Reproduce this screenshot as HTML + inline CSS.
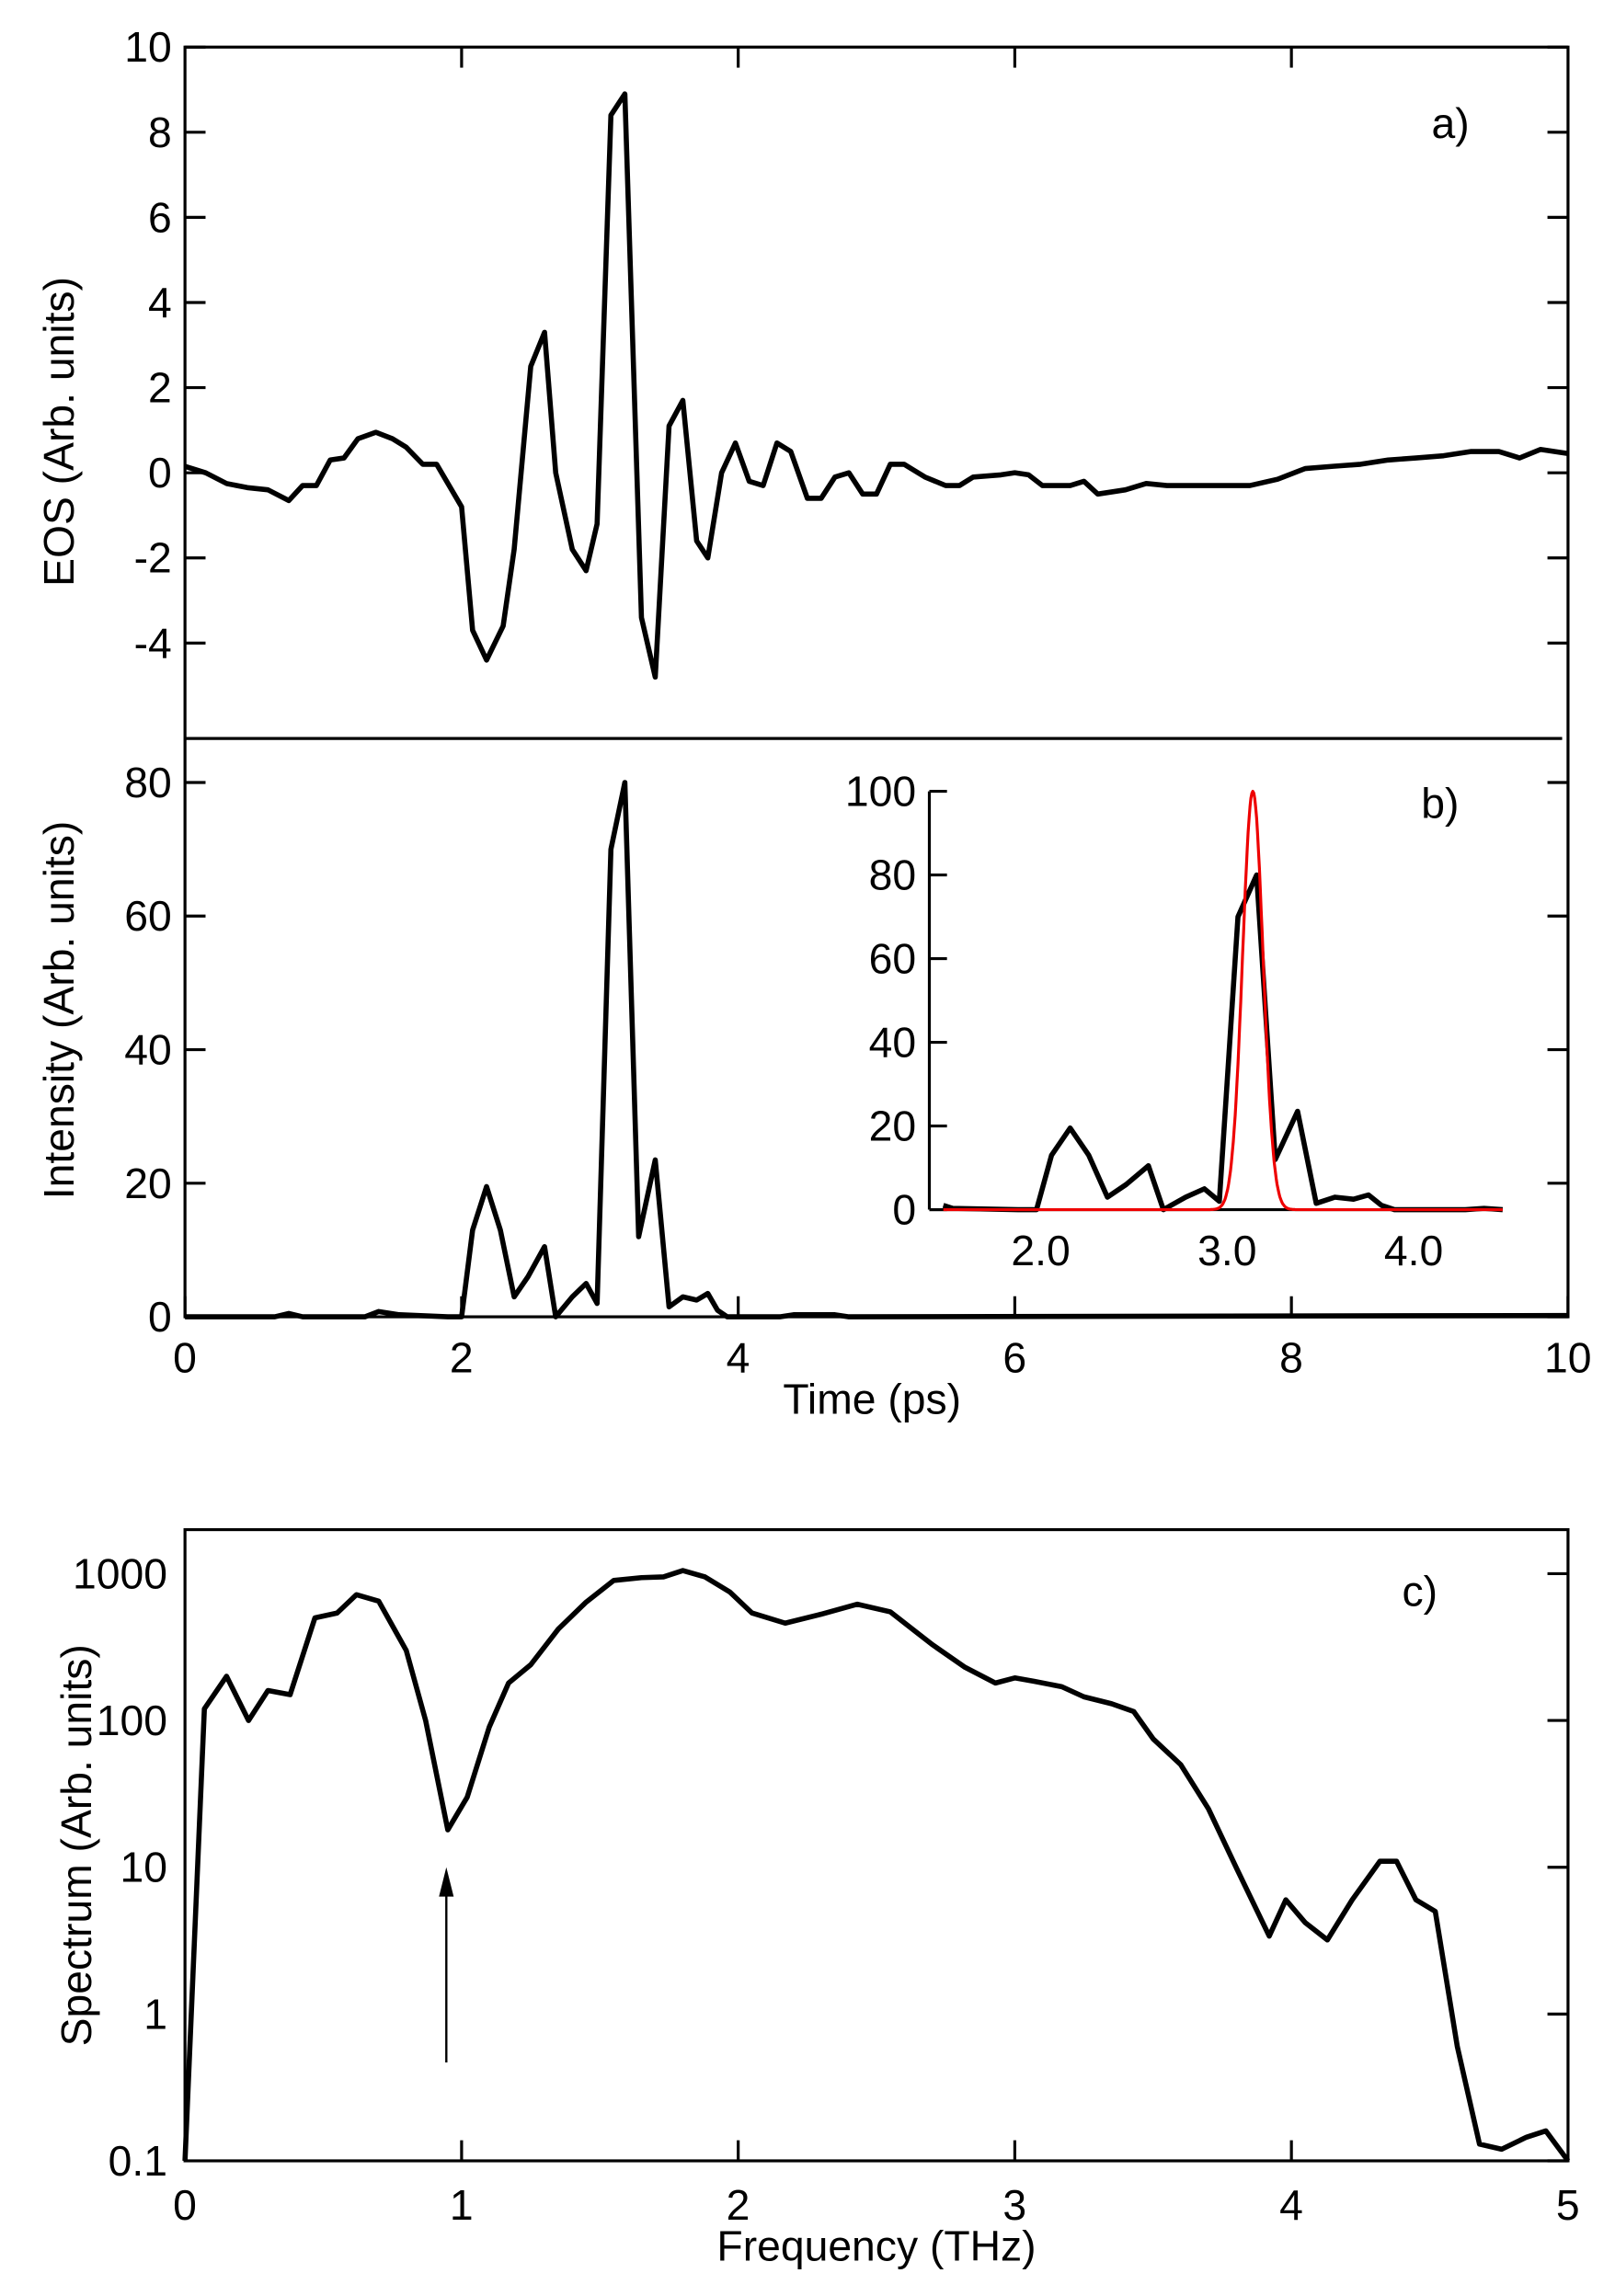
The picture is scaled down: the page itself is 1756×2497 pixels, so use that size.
<!DOCTYPE html>
<html><head><meta charset="utf-8"><style>
html,body{margin:0;padding:0;background:#fff}
svg{display:block}
text{font-family:"Liberation Sans","DejaVu Sans",sans-serif;fill:#000}
</style></head><body>
<svg id="s" width="1756" height="2497" viewBox="0 0 1100 1564" xmlns="http://www.w3.org/2000/svg">
<g fill="none" stroke="#000" stroke-width="2">
<rect x="126" y="32" width="942" height="865"/>
<line x1="126" y1="503" x2="1064" y2="503"/>
<rect x="126" y="1042" width="942" height="430"/>
<line x1="633" y1="539" x2="633" y2="824"/>
<line x1="633" y1="824" x2="1022" y2="824"/>
<line x1="304" y1="1405" x2="304" y2="1285" stroke-width="1.5"/>
</g>
<polygon points="304,1272 299,1292 309,1292" fill="#000"/>
<g id="ticks" stroke="#000" stroke-width="2"></g>
<g id="lines" fill="none" stroke-linejoin="round"></g>
<g font-size="29" text-anchor="end" id="lbl"></g>
<text x="975" y="94" font-size="29">a)</text>
<text x="968" y="557" font-size="29">b)</text>
<text x="955" y="1094" font-size="29">c)</text>
<text x="594" y="963" font-size="29" text-anchor="middle">Time (ps)</text>
<text x="597" y="1540" font-size="29" text-anchor="middle">Frequency (THz)</text>
<text transform="translate(50,294) rotate(-90)" font-size="29" text-anchor="middle">EOS (Arb. units)</text>
<text transform="translate(50,688) rotate(-90)" font-size="29" text-anchor="middle">Intensity (Arb. units)</text>
<text transform="translate(62,1257) rotate(-90)" font-size="29" text-anchor="middle">Spectrum (Arb. units)</text>
</svg>
<script>
var NS="http://www.w3.org/2000/svg";
function el(p,t,a,txt){var e=document.createElementNS(NS,t);for(var k in a)e.setAttribute(k,a[k]);if(txt!==undefined)e.textContent=txt;document.getElementById(p).appendChild(e);return e;}
var tx=function(t){return 126+t*94.2};
var ya=function(v){return 322-v*29};
var yb=function(v){return 897-v*4.55};
var ix=function(t){return 833+(t-3)*127};
var iy=function(v){return 824-v*2.85};
var fx=function(f){return 126+f*188.4};
var fy=function(v){return 1372-100*Math.log10(v)};
[10,8,6,4,2,0,-2,-4].forEach(function(v){var y=ya(v);el("ticks","line",{x1:126,y1:y,x2:140,y2:y});el("ticks","line",{x1:1054,y1:y,x2:1068,y2:y});el("lbl","text",{x:117,y:y+10},String(v));});
[2,4,6,8].forEach(function(t){el("ticks","line",{x1:tx(t),y1:32,x2:tx(t),y2:46});});
[0,20,40,60,80].forEach(function(v){var y=yb(v);el("ticks","line",{x1:126,y1:y,x2:140,y2:y});el("ticks","line",{x1:1054,y1:y,x2:1068,y2:y});el("lbl","text",{x:117,y:y+10},String(v));});
[0,2,4,6,8,10].forEach(function(t){var x=tx(t);el("ticks","line",{x1:x,y1:883,x2:x,y2:897});el("lbl","text",{x:x+8*String(t).length,y:935},String(t));});
[0,20,40,60,80,100].forEach(function(v){var y=iy(v);el("ticks","line",{x1:633,y1:y,x2:645,y2:y});el("lbl","text",{x:624,y:y+10},String(v));});
["2.0","3.0","4.0"].forEach(function(s){el("lbl","text",{x:ix(+s)+23,y:862},s);});
[[1000,"1000"],[100,"100"],[10,"10"],[1,"1"],[0.1,"0.1"]].forEach(function(a){var y=fy(a[0]);el("ticks","line",{x1:1054,y1:y,x2:1068,y2:y});el("lbl","text",{x:114,y:y+10},a[1]);});
[1,2,3,4].forEach(function(f){el("ticks","line",{x1:fx(f),y1:1458,x2:fx(f),y2:1472});});
[0,1,2,3,4,5].forEach(function(f){el("lbl","text",{x:fx(f)+8,y:1512},String(f));});
function pl(d,X,Y,c,w){el("lines","polyline",{points:d.map(function(p){return X(p[0]).toFixed(1)+","+Y(p[1]).toFixed(1)}).join(" "),stroke:c,"stroke-width":w});}
var A=[[0,0.15],[0.15,0],[0.3,-0.25],[0.45,-0.35],[0.6,-0.4],[0.75,-0.65],[0.85,-0.3],[0.95,-0.3],[1.05,0.3],[1.15,0.35],[1.25,0.8],[1.38,0.95],[1.5,0.8],[1.6,0.6],[1.72,0.2],[1.82,0.2],[2.0,-0.8],[2.08,-3.7],[2.18,-4.4],[2.3,-3.6],[2.38,-1.8],[2.5,2.5],[2.6,3.3],[2.68,0],[2.8,-1.8],[2.9,-2.3],[2.98,-1.2],[3.08,8.4],[3.18,8.9],[3.3,-3.4],[3.4,-4.8],[3.5,1.1],[3.6,1.7],[3.7,-1.6],[3.78,-2.0],[3.88,0],[3.98,0.7],[4.08,-0.2],[4.18,-0.3],[4.28,0.7],[4.38,0.5],[4.5,-0.6],[4.6,-0.6],[4.7,-0.1],[4.8,0],[4.9,-0.5],[5.0,-0.5],[5.1,0.2],[5.2,0.2],[5.35,-0.1],[5.5,-0.3],[5.6,-0.3],[5.7,-0.1],[5.9,-0.05],[6.0,0],[6.1,-0.05],[6.2,-0.3],[6.4,-0.3],[6.5,-0.2],[6.6,-0.5],[6.8,-0.4],[6.95,-0.25],[7.1,-0.3],[7.3,-0.3],[7.5,-0.3],[7.7,-0.3],[7.9,-0.15],[8.1,0.1],[8.3,0.15],[8.5,0.2],[8.7,0.3],[8.9,0.35],[9.1,0.4],[9.3,0.5],[9.5,0.5],[9.65,0.35],[9.8,0.55],[9.9,0.5],[10,0.45]];
pl(A,tx,ya,"#000",3.5);
var B=[[0,0],[0.65,0],[0.75,0.5],[0.85,0],[1.3,0],[1.4,0.8],[1.55,0.3],[1.9,0],[2.0,0],[2.08,13],[2.18,19.5],[2.28,13],[2.38,3],[2.48,6],[2.6,10.5],[2.68,0],[2.8,3],[2.9,5],[2.98,2],[3.08,70],[3.18,80],[3.28,12],[3.4,23.5],[3.5,1.5],[3.6,3],[3.7,2.5],[3.78,3.5],[3.85,1],[3.92,0],[4.3,0],[4.4,0.3],[4.7,0.3],[4.8,0],[10,0.2]];
pl(B,tx,yb,"#000",3.5);
var BI=B.filter(function(p){return p[0]>=1.5&&p[0]<=4.5;});BI.unshift([1.5,1]);BI.push([4.5,0]);
pl(BI,ix,iy,"#000",3.5);
var G=[];for(var t=1.5;t<=4.5;t+=0.005)G.push([t,100*Math.exp(-Math.pow(t-3.16,2)/(2*0.055*0.055))]);
pl(G,ix,iy,"#e00",2);
var C=[[0,0.1],[0.07,120],[0.15,200],[0.23,100],[0.3,160],[0.38,150],[0.47,500],[0.55,540],[0.62,720],[0.7,650],[0.8,300],[0.87,100],[0.95,18],[1.02,30],[1.1,90],[1.17,180],[1.25,240],[1.35,420],[1.45,640],[1.55,900],[1.65,940],[1.73,950],[1.8,1050],[1.88,950],[1.97,750],[2.05,540],[2.17,460],[2.3,530],[2.43,620],[2.55,550],[2.7,330],[2.82,230],[2.93,180],[3.0,195],[3.07,185],[3.17,170],[3.25,145],[3.35,130],[3.43,115],[3.5,75],[3.6,50],[3.7,25],[3.8,10],[3.92,3.4],[3.98,6],[4.05,4.2],[4.13,3.2],[4.22,6],[4.32,11],[4.38,11],[4.45,6],[4.52,5],[4.6,0.6],[4.68,0.13],[4.76,0.12],[4.85,0.145],[4.92,0.16],[5.0,0.1]];
pl(C,fx,fy,"#000",3.5);
</script>
</body></html>
